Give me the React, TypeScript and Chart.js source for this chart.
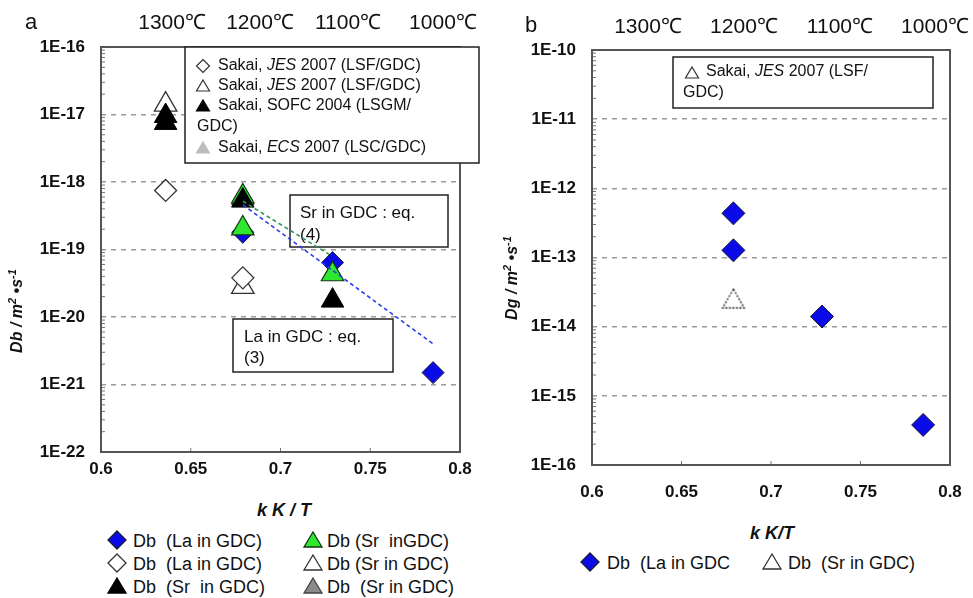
import React, { useEffect, useRef } from 'react';
import { Chart, registerables } from 'chart.js';
Chart.register(...registerables);

const FONT = '"Liberation Sans", Arial, Helvetica, sans-serif';

// ---------- Panel a (bulk diffusion Db) ----------
const laBlueX = [0.679, 0.729, 0.785];
const laBlueY = [1.8e-19, 6.4e-20, 1.5e-21];
const srGreenX = [0.679, 0.679, 0.729];
const srGreenY = [6.1e-19, 2.05e-19, 4.3e-20];
const laOpenX = [0.636, 0.679];
const laOpenY = [7.5e-19, 3.8e-20];
const srOpenX = [0.636, 0.679];
const srOpenY = [1.4e-17, 2.8e-20];
const srBlackX = [0.636, 0.636, 0.679, 0.729];
const srBlackY = [9.5e-18, 7.5e-18, 5.3e-19, 1.75e-20];
const srGrayX = [0.679];
const srGrayY = [5.8e-19];
const laFitX = [0.679, 0.785];
const laFitY = [4.6e-19, 4.0e-21];
const srFitX = [0.679, 0.727];
const srFitY = [5.2e-19, 8.5e-20];

// ---------- Panel b (grain-boundary diffusion Dg) ----------
const dgLaX = [0.679, 0.679, 0.7285, 0.785];
const dgLaY = [4.35e-13, 1.27e-13, 1.4e-14, 3.8e-16];
const dgSrX = [0.679];
const dgSrY = [2.3e-14];

// ---------- Axes ----------
const xTicks = [0.6, 0.65, 0.7, 0.75, 0.8];
const yTicksA = [1e-22, 1e-21, 1e-20, 1e-19, 1e-18, 1e-17, 1e-16];
const yTicksB = [1e-16, 1e-15, 1e-14, 1e-13, 1e-12, 1e-11, 1e-10];
const tempLabels = ['1300℃', '1200℃', '1100℃', '1000℃'];
const tempPosA = [0.6396, 0.6886, 0.7376, 0.7905];
const tempPosB = [0.6313, 0.6849, 0.7385, 0.7916];

const pts = (xs: number[], ys: number[]) => xs.map((x, i) => ({ x, y: ys[i] }));

type Run = [string, boolean];

function drawRuns(ctx: CanvasRenderingContext2D, x: number, y: number, runs: Run[], size: number) {
  let cx = x;
  for (const [t, it] of runs) {
    ctx.font = `${it ? 'italic ' : ''}${size}px ${FONT}`;
    ctx.fillText(t, cx, y);
    cx += ctx.measureText(t).width;
  }
}

function drawMark(ctx: CanvasRenderingContext2D, kind: string, x: number, y: number, fill: string, stroke: string) {
  ctx.beginPath();
  if (kind === 'diamond') {
    ctx.moveTo(x, y - 6.5);
    ctx.lineTo(x + 6.5, y);
    ctx.lineTo(x, y + 6.5);
    ctx.lineTo(x - 6.5, y);
  } else {
    ctx.moveTo(x, y - 6);
    ctx.lineTo(x + 6.5, y + 5);
    ctx.lineTo(x - 6.5, y + 5);
  }
  ctx.closePath();
  ctx.fillStyle = fill;
  ctx.fill();
  ctx.strokeStyle = stroke;
  ctx.lineWidth = 1.2;
  ctx.stroke();
}

function drawBox(ctx: CanvasRenderingContext2D, x0: number, y0: number, x1: number, y1: number) {
  ctx.fillStyle = '#fff';
  ctx.fillRect(x0, y0, x1 - x0, y1 - y0);
  ctx.strokeStyle = '#222';
  ctx.lineWidth = 1.5;
  ctx.strokeRect(x0, y0, x1 - x0, y1 - y0);
}

function framePlugin(id: string, yTicks: number[], boxes: (ctx: CanvasRenderingContext2D) => void) {
  return {
    id,
    beforeDatasetsDraw(chart: any) {
      const { ctx, chartArea: a } = chart;
      const ys = chart.scales.y;
      const xs = chart.scales.x;
      ctx.save();
      ctx.strokeStyle = '#777';
      ctx.lineWidth = 1;
      for (let i = 0; i < yTicks.length - 1; i++) {
        for (let k = 2; k <= 9; k++) {
          const py = ys.getPixelForValue(yTicks[i] * k);
          ctx.beginPath();
          ctx.moveTo(a.left, py);
          ctx.lineTo(a.left + 4, py);
          ctx.stroke();
        }
      }
      for (let i = 1; i < xTicks.length - 1; i++) {
        const px = xs.getPixelForValue(xTicks[i]);
        ctx.beginPath();
        ctx.moveTo(px, a.bottom);
        ctx.lineTo(px, a.bottom - 4);
        ctx.stroke();
      }
      ctx.strokeStyle = '#555';
      ctx.lineWidth = 2;
      ctx.strokeRect(a.left, a.top, a.right - a.left, a.bottom - a.top);
      ctx.fillStyle = '#111';
      ctx.textBaseline = 'middle';
      boxes(ctx);
      ctx.restore();
    },
  };
}

function makeScales(yMin: number, yMax: number, yTicks: number[], tempPos: number[], axisW: number, topH: number, bottomH: number, topPad: number, botPad: number) {
  return {
    x: {
      type: 'linear', position: 'bottom', min: 0.6, max: 0.8,
      afterBuildTicks: (s: any) => { s.ticks = xTicks.map((v) => ({ value: v })); },
      ticks: {
        callback: (v: any) => String(+Number(v).toFixed(2)),
        font: { family: FONT, size: 17, weight: 'bold' }, color: '#111',
        padding: botPad, maxRotation: 0, autoSkip: false,
      },
      grid: { display: false, drawTicks: false },
      border: { display: false },
      afterFit: (s: any) => { s.height = bottomH; s.paddingLeft = 0; s.paddingRight = 0; },
    },
    x2: {
      type: 'linear', position: 'top', min: 0.6, max: 0.8,
      afterBuildTicks: (s: any) => { s.ticks = tempPos.map((v) => ({ value: v })); },
      ticks: {
        callback: (_v: any, i: number) => tempLabels[i],
        font: { family: FONT, size: 21 }, color: '#111',
        padding: topPad, maxRotation: 0, autoSkip: false,
      },
      grid: { display: false, drawTicks: false },
      border: { display: false },
      afterFit: (s: any) => { s.height = topH; s.paddingLeft = 0; s.paddingRight = 0; },
    },
    y: {
      type: 'logarithmic', position: 'left', min: yMin, max: yMax,
      afterBuildTicks: (s: any) => { s.ticks = yTicks.map((v) => ({ value: v })); },
      ticks: {
        callback: (v: any) => '1E' + Math.round(Math.log10(Number(v))),
        font: { family: FONT, size: 17, weight: 'bold' }, color: '#111',
        padding: 16, autoSkip: false,
      },
      grid: { color: '#9a9a9a', lineWidth: 1.5, drawTicks: false },
      border: { display: false, dash: [5, 5] },
      afterFit: (s: any) => { s.width = axisW; s.paddingTop = 0; s.paddingBottom = 0; },
    },
  };
}

const blueDia = { pointStyle: 'rectRot', pointRadius: 11, backgroundColor: '#0b0be8', borderColor: '#1a1a33', borderWidth: 1 };
const greenTri = { pointStyle: 'triangle', pointRadius: 13, backgroundColor: '#2ee82e', borderColor: '#153315', borderWidth: 1.2 };
const blackTri = { pointStyle: 'triangle', pointRadius: 13, backgroundColor: '#000', borderColor: '#000', borderWidth: 1 };
const grayTri = { pointStyle: 'triangle', pointRadius: 13, backgroundColor: '#8a8a8a', borderColor: '#444', borderWidth: 1 };
const openDia = { pointStyle: 'rectRot', pointRadius: 11, backgroundColor: '#fff', borderColor: '#333', borderWidth: 1.3 };
const openTri = { pointStyle: 'triangle', pointRadius: 13, backgroundColor: '#fff', borderColor: '#333', borderWidth: 1.3 };

function configA(): any {
  const boxes = (ctx: CanvasRenderingContext2D) => {
    drawBox(ctx, 185, 47, 479, 163);
    ctx.fillStyle = '#111';
    drawMark(ctx, 'diamond', 203, 66, '#fff', '#333');
    ctx.fillStyle = '#111';
    drawRuns(ctx, 218, 66, [['Sakai, ', false], ['JES', true], [' 2007 (LSF/GDC)', false]], 16);
    drawMark(ctx, 'tri', 203, 86, '#fff', '#333');
    ctx.fillStyle = '#111';
    drawRuns(ctx, 218, 86, [['Sakai, ', false], ['JES', true], [' 2007 (LSF/GDC)', false]], 16);
    drawMark(ctx, 'tri', 203, 106, '#000', '#000');
    ctx.fillStyle = '#111';
    drawRuns(ctx, 218, 106, [['Sakai, SOFC 2004 (LSGM/', false]], 16);
    drawRuns(ctx, 197, 127, [['GDC)', false]], 16);
    drawMark(ctx, 'tri', 203, 148, '#bdbdbd', '#bdbdbd');
    ctx.fillStyle = '#111';
    drawRuns(ctx, 218, 148, [['Sakai, ', false], ['ECS', true], [' 2007 (LSC/GDC)', false]], 16);

    drawBox(ctx, 290, 195, 448, 247);
    ctx.fillStyle = '#111';
    drawRuns(ctx, 300, 213, [['Sr in GDC : eq.', false]], 17);
    drawRuns(ctx, 300, 235, [['(4)', false]], 17);

    drawBox(ctx, 233, 319, 393, 372);
    ctx.fillStyle = '#111';
    drawRuns(ctx, 244, 337, [['La in GDC : eq.', false]], 17);
    drawRuns(ctx, 244, 358, [['(3)', false]], 17);
  };
  return {
    type: 'scatter',
    data: {
      datasets: [
        { type: 'line', label: 'La fit', data: pts(laFitX, laFitY), borderColor: '#2b3df0', borderWidth: 1.6, borderDash: [4, 3], pointRadius: 0, fill: false, showLine: true },
        { type: 'line', label: 'Sr fit', data: pts(srFitX, srFitY), borderColor: '#2e9a5a', borderWidth: 1.6, borderDash: [4, 3], pointRadius: 0, fill: false, showLine: true },
        { label: 'Db (Sr in GDC) black', data: pts(srBlackX, srBlackY), ...blackTri },
        { label: 'Db (Sr inGDC)', data: pts(srGreenX, srGreenY), ...greenTri },
        { label: 'Db (Sr in GDC) gray', data: pts(srGrayX, srGrayY), ...grayTri },
        { label: 'Db (La in GDC)', data: pts(laBlueX, laBlueY), ...blueDia },
        { label: 'Db (La in GDC) open', data: pts(laOpenX, laOpenY), ...openDia },
        { label: 'Db (Sr in GDC) open', data: pts(srOpenX, srOpenY), ...openTri },
      ],
    },
    options: {
      responsive: false,
      animation: false,
      devicePixelRatio: 1,
      layout: { padding: { left: 0, top: 0, right: 30, bottom: 0 } },
      plugins: { legend: { display: false }, tooltip: { enabled: false } },
      scales: makeScales(1e-22, 1e-16, yTicksA, tempPosA, 101, 47, 28, 11.4, 6.8),
    },
    plugins: [framePlugin('frameA', yTicksA, boxes)],
  };
}

function dashedTriangle(): HTMLCanvasElement {
  const c = document.createElement('canvas');
  c.width = 30;
  c.height = 30;
  const g = c.getContext('2d')!;
  const r = 12.5;
  const cx = 15, cy = 15;
  g.beginPath();
  g.moveTo(cx, cy - r);
  g.lineTo(cx + r * 0.866, cy + r / 2);
  g.lineTo(cx - r * 0.866, cy + r / 2);
  g.closePath();
  g.fillStyle = '#fff';
  g.fill();
  g.setLineDash([2, 1.5]);
  g.strokeStyle = '#222';
  g.lineWidth = 1.3;
  g.stroke();
  return c;
}

function configB(): any {
  const boxes = (ctx: CanvasRenderingContext2D) => {
    drawBox(ctx, 183, 57, 443, 108);
    drawMark(ctx, 'tri', 202, 73, '#fff', '#333');
    ctx.fillStyle = '#111';
    drawRuns(ctx, 216, 72, [['Sakai, ', false], ['JES', true], [' 2007 (LSF/', false]], 16);
    drawRuns(ctx, 193, 93, [['GDC)', false]], 16);
  };
  return {
    type: 'scatter',
    data: {
      datasets: [
        { label: 'Db (La in GDC', data: pts(dgLaX, dgLaY), ...blueDia, pointRadius: 11.5 },
        { label: 'Db (Sr in GDC)', data: pts(dgSrX, dgSrY), pointStyle: dashedTriangle(), pointRadius: 13 },
      ],
    },
    options: {
      responsive: false,
      animation: false,
      devicePixelRatio: 1,
      layout: { padding: { left: 0, top: 0, right: 23, bottom: 0 } },
      plugins: { legend: { display: false }, tooltip: { enabled: false } },
      scales: makeScales(1e-16, 1e-10, yTicksB, tempPosB, 102, 50, 45, 10.4, 16.8),
    },
    plugins: [framePlugin('frameB', yTicksB, boxes)],
  };
}

function Marker({ kind, x, y, fill, stroke }: { kind: string; x: number; y: number; fill: string; stroke: string }) {
  const shape = kind === 'diamond'
    ? <polygon points="10,1 19,10 10,19 1,10" fill={fill} stroke={stroke} strokeWidth={1.3} />
    : <polygon points="10,2 19,17 1,17" fill={fill} stroke={stroke} strokeWidth={1.3} />;
  return (
    <svg width={20} height={20} style={{ position: 'absolute', left: x - 10, top: y - 10 }}>{shape}</svg>
  );
}

function LText({ x, y, text, size = 18 }: { x: number; y: number; text: string; size?: number }) {
  return (
    <div style={{ position: 'absolute', left: x, top: y, transform: 'translateY(-50%)', whiteSpace: 'pre', fontSize: size, lineHeight: 1 }}>{text}</div>
  );
}

function CText({ x, y, children, style }: { x: number; y: number; children: any; style?: any }) {
  return (
    <div style={{ position: 'absolute', left: x, top: y, transform: 'translate(-50%,-50%)', whiteSpace: 'pre', lineHeight: 1, ...style }}>{children}</div>
  );
}

function YTitle({ x, y, letter }: { x: number; y: number; letter: string }) {
  return (
    <div style={{ position: 'absolute', left: x, top: y, transform: 'translate(-50%,-50%) rotate(-90deg)', whiteSpace: 'pre', fontSize: 16, fontWeight: 'bold', fontStyle: 'italic', lineHeight: 1 }}>
      {letter} / m<sup style={{ fontSize: 11 }}>2</sup> •s<sup style={{ fontSize: 11 }}>-1</sup>
    </div>
  );
}

export default function App() {
  const refA = useRef<HTMLCanvasElement>(null);
  const refB = useRef<HTMLCanvasElement>(null);
  useEffect(() => {
    const a = new Chart(refA.current as HTMLCanvasElement, configA());
    const b = new Chart(refB.current as HTMLCanvasElement, configB());
    return () => { a.destroy(); b.destroy(); };
  }, []);
  return (
    <div style={{ position: 'fixed', left: 0, top: 0, width: 973, height: 598, background: '#fff', fontFamily: FONT, color: '#111', overflow: 'hidden' }}>
      <canvas ref={refA} width={490} height={480} style={{ position: 'absolute', left: 0, top: 0 }} />
      <canvas ref={refB} width={483} height={510} style={{ position: 'absolute', left: 490, top: 0 }} />

      <CText x={31} y={22} style={{ fontSize: 22 }}>a</CText>
      <CText x={531} y={25} style={{ fontSize: 22 }}>b</CText>

      <YTitle x={16} y={311} letter="Db" />
      <YTitle x={511} y={278} letter="Dg" />

      <CText x={284} y={510} style={{ fontSize: 18, fontWeight: 'bold', fontStyle: 'italic' }}>k K / T</CText>
      <CText x={772} y={533} style={{ fontSize: 18, fontWeight: 'bold', fontStyle: 'italic' }}>k K/T</CText>

      {/* Panel a legend */}
      <Marker kind="diamond" x={117} y={540} fill="#0b0be8" stroke="#1a1a33" />
      <LText x={133} y={541} text="Db  (La in GDC)" />
      <Marker kind="tri" x={313} y={540} fill="#2ee82e" stroke="#153315" />
      <LText x={327} y={541} text="Db (Sr  inGDC)" />
      <Marker kind="diamond" x={117} y={563} fill="#fff" stroke="#333" />
      <LText x={133} y={564} text="Db  (La in GDC)" />
      <Marker kind="tri" x={313} y={563} fill="#fff" stroke="#333" />
      <LText x={327} y={564} text="Db (Sr in GDC)" />
      <Marker kind="tri" x={117} y={586} fill="#000" stroke="#000" />
      <LText x={133} y={587} text="Db  (Sr  in GDC)" />
      <Marker kind="tri" x={313} y={586} fill="#8a8a8a" stroke="#444" />
      <LText x={327} y={587} text="Db  (Sr in GDC)" />

      {/* Panel b legend */}
      <Marker kind="diamond" x={590} y={562} fill="#0b0be8" stroke="#1a1a33" />
      <LText x={607} y={563} text="Db  (La in GDC" />
      <Marker kind="tri" x={772} y={562} fill="#fff" stroke="#333" />
      <LText x={788} y={563} text="Db  (Sr in GDC)" />
    </div>
  );
}
